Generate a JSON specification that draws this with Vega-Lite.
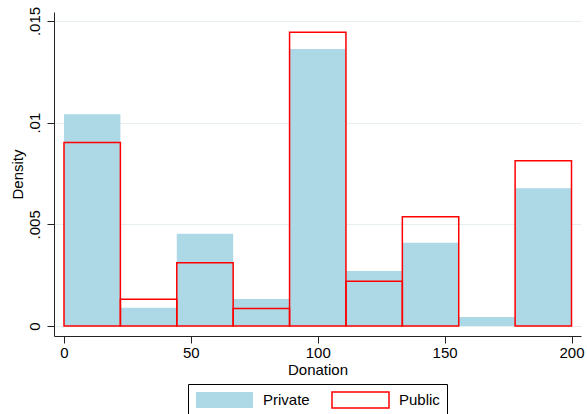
{
  "$schema": "https://vega.github.io/schema/vega-lite/v6.json",
  "autosize": "none",
  "padding": {"left": 54, "top": 12, "right": 6, "bottom": 78},
  "width": 527,
  "height": 324,
  "background": "white",
  "config": {
    "font": "Liberation Sans",
    "view": {"stroke": null},
    "axis": {
      "labelFont": "Liberation Sans",
      "titleFont": "Liberation Sans",
      "labelFontSize": 15,
      "titleFontSize": 15,
      "titleFontWeight": "normal",
      "labelColor": "#000",
      "titleColor": "#000",
      "domainColor": "#222",
      "tickColor": "#222",
      "tickSize": 7,
      "domainWidth": 1,
      "tickWidth": 1
    },
    "legend": {
      "labelFont": "Liberation Sans",
      "labelFontSize": 15,
      "labelColor": "#000"
    }
  },
  "data": {
    "values": [
      {"start": 0, "end": 22.222, "density": 0.01042, "group": "Private"},
      {"start": 22.222, "end": 44.444, "density": 0.0009, "group": "Private"},
      {"start": 44.444, "end": 66.667, "density": 0.00454, "group": "Private"},
      {"start": 66.667, "end": 88.889, "density": 0.00133, "group": "Private"},
      {"start": 88.889, "end": 111.111, "density": 0.01362, "group": "Private"},
      {"start": 111.111, "end": 133.333, "density": 0.0027, "group": "Private"},
      {"start": 133.333, "end": 155.556, "density": 0.0041, "group": "Private"},
      {"start": 155.556, "end": 177.778, "density": 0.00044, "group": "Private"},
      {"start": 177.778, "end": 200, "density": 0.00678, "group": "Private"},
      {"start": 0, "end": 22.222, "density": 0.00903, "group": "Public"},
      {"start": 22.222, "end": 44.444, "density": 0.00131, "group": "Public"},
      {"start": 44.444, "end": 66.667, "density": 0.00311, "group": "Public"},
      {"start": 66.667, "end": 88.889, "density": 0.00086, "group": "Public"},
      {"start": 88.889, "end": 111.111, "density": 0.01445, "group": "Public"},
      {"start": 111.111, "end": 133.333, "density": 0.0022, "group": "Public"},
      {"start": 133.333, "end": 155.556, "density": 0.00537, "group": "Public"},
      {"start": 177.778, "end": 200, "density": 0.00813, "group": "Public"}
    ]
  },
  "mark": {"type": "rect", "strokeWidth": 1.5},
  "encoding": {
    "x": {
      "field": "start",
      "type": "quantitative",
      "title": "Donation",
      "scale": {"domain": [-3.94, 203.74], "nice": false, "zero": false},
      "axis": {
        "values": [0, 50, 100, 150, 200],
        "grid": false,
        "labelPadding": 2,
        "titlePadding": 2,
        "labelFlush": false
      }
    },
    "x2": {"field": "end"},
    "y": {
      "field": "density",
      "type": "quantitative",
      "title": "Density",
      "stack": null,
      "scale": {"domain": [-0.000492, 0.015443], "nice": false, "zero": false},
      "axis": {
        "values": [0, 0.005, 0.01, 0.015],
        "labelExpr": "datum.value == 0 ? '0' : replace(format(datum.value, '.3~f'), '0.', '.')",
        "labelAngle": -90,
        "labelAlign": "center",
        "labelBaseline": "bottom",
        "labelPadding": 5,
        "titlePadding": 2,
        "grid": true,
        "gridColor": "#e6eef0",
        "gridWidth": 1,
        "labelFlush": false
      }
    },
    "y2": {"datum": 0},
    "fill": {
      "field": "group",
      "type": "nominal",
      "scale": {"domain": ["Private", "Public"], "range": ["#add8e6", "transparent"]},
      "legend": {
        "title": null,
        "orient": "none",
        "legendX": 134,
        "legendY": 372,
        "direction": "horizontal",
        "columns": 2,
        "strokeColor": "#000",
        "padding": 7,
        "symbolType": "M-1,-1H6.125V1H-1Z",
        "symbolSize": 256,
        "symbolStrokeWidth": 1.5,
        "labelOffset": 50,
        "columnPadding": 19
      }
    },
    "stroke": {
      "field": "group",
      "type": "nominal",
      "scale": {"domain": ["Private", "Public"], "range": ["transparent", "#ff0000"]},
      "legend": {
        "title": null,
        "orient": "none",
        "legendX": 134,
        "legendY": 372,
        "direction": "horizontal",
        "columns": 2,
        "strokeColor": "#000",
        "padding": 7,
        "symbolType": "M-1,-1H6.125V1H-1Z",
        "symbolSize": 256,
        "symbolStrokeWidth": 1.5,
        "labelOffset": 50,
        "columnPadding": 19
      }
    }
  }
}
